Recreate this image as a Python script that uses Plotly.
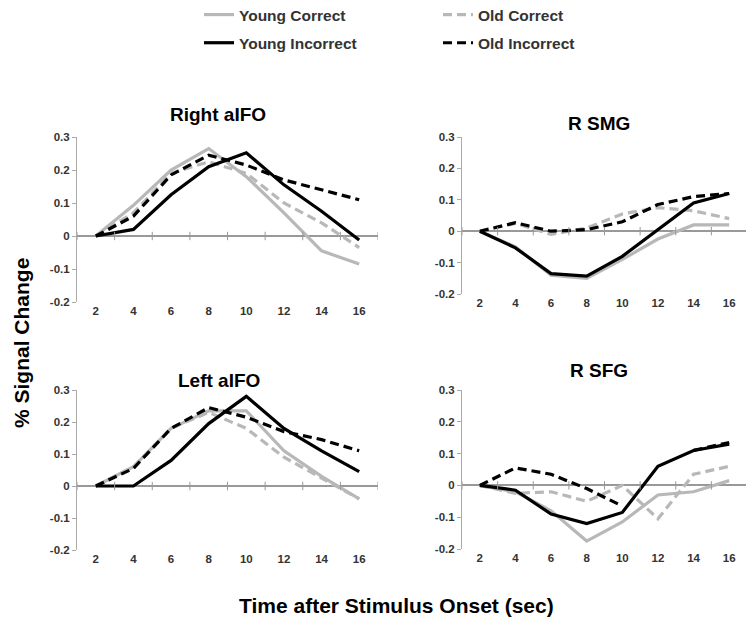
import plotly.graph_objects as go

# tempo (s) após o início do estímulo
tempo = [2, 4, 6, 8, 10, 12, 14, 16]

# Right aIFO
raifo_young_correct = [0, 0.093, 0.20, 0.265, 0.18, 0.07, -0.045, -0.085]
raifo_old_correct = [0, 0.07, 0.19, 0.225, 0.19, 0.10, 0.04, -0.035]
raifo_young_incorrect = [0, 0.02, 0.125, 0.21, 0.252, 0.155, 0.075, -0.012]
raifo_old_incorrect = [0, 0.06, 0.185, 0.245, 0.215, 0.17, 0.14, 0.11]

# R SMG
rsmg_young_correct = [0, -0.05, -0.14, -0.15, -0.09, -0.025, 0.02, 0.02]
rsmg_old_correct = [0, 0.025, -0.01, 0.01, 0.055, 0.075, 0.065, 0.04]
rsmg_young_incorrect = [0, -0.053, -0.135, -0.143, -0.08, 0.005, 0.09, 0.12]
rsmg_old_incorrect = [0, 0.027, 0.0, 0.005, 0.03, 0.085, 0.11, 0.12]

# Left aIFO
laifo_young_correct = [0, 0.06, 0.18, 0.235, 0.235, 0.11, 0.03, -0.04]
laifo_old_correct = [0, 0.06, 0.18, 0.23, 0.18, 0.09, 0.025, -0.04]
laifo_young_incorrect = [0, 0, 0.08, 0.195, 0.28, 0.18, 0.11, 0.045]
laifo_old_incorrect = [0, 0.055, 0.18, 0.245, 0.215, 0.17, 0.145, 0.11]

# R SFG
rsfg_young_correct = [0, -0.02, -0.08, -0.175, -0.115, -0.03, -0.02, 0.015]
rsfg_old_correct = [0, -0.025, -0.02, -0.05, 0.0, -0.105, 0.035, 0.06]
rsfg_young_incorrect = [0, -0.015, -0.09, -0.12, -0.085, 0.06, 0.11, 0.13]
rsfg_old_incorrect = [0, 0.055, 0.035, -0.01, -0.065, None, 0.11, 0.135]

paineis = [
    ("Right aIFO", raifo_young_correct, raifo_old_correct, raifo_young_incorrect, raifo_old_incorrect),
    ("R SMG", rsmg_young_correct, rsmg_old_correct, rsmg_young_incorrect, rsmg_old_incorrect),
    ("Left aIFO", laifo_young_correct, laifo_old_correct, laifo_young_incorrect, laifo_old_incorrect),
    ("R SFG", rsfg_young_correct, rsfg_old_correct, rsfg_young_incorrect, rsfg_old_incorrect),
]

# a página tem margem de 8px no body, então a figura é um pouco menor
OFF = 8
W, H = 754 - OFF, 625 - OFF
FONTE = "Arial, Liberation Sans, sans-serif"
CINZA = "#b8b8b8"


def fx(p):
    return (p - OFF) / W


def fy(p):
    return 1 - (p - OFF) / H


# posições dos painéis em pixels da tela: (x0, x1, y_top, y_bottom)
caixas = [(77, 378, 137, 302), (462, 747, 137, 294),
          (77, 378, 390, 550), (462, 747, 390, 549)]
# posição dos títulos (x, y)
titulos_pos = [(218, 115), (599, 123), (219, 380), (599, 370)]

estilos = [
    ("Young Correct", CINZA, "solid", "legend"),
    ("Old Correct", CINZA, "9px,5px", "legend2"),
    ("Young Incorrect", "black", "solid", "legend"),
    ("Old Incorrect", "black", "9px,5px", "legend2"),
]

fig = go.Figure()
layout = {}
anotacoes = []

for i, (titulo, *series) in enumerate(paineis):
    n = "" if i == 0 else str(i + 1)
    x0, x1, yt, yb = caixas[i]
    for (nome, cor, dash, leg), vals in zip(estilos, series):
        fig.add_trace(go.Scatter(
            x=tempo, y=vals, mode="lines", name=nome,
            line=dict(color=cor, width=3.2, dash=dash),
            xaxis="x" + n, yaxis="y" + n,
            showlegend=(i == 0), legend=leg, legendgroup=nome,
        ))
    # marcas de escala sobre a linha do zero
    fig.add_trace(go.Scatter(
        x=[1, 3, 5, 7, 9, 11, 13, 15, 17], y=[0] * 9, mode="markers",
        marker=dict(symbol="line-ns", size=6, line=dict(width=1, color="#999")),
        xaxis="x" + n, yaxis="y" + n, showlegend=False, hoverinfo="skip",
    ))
    layout["xaxis" + n] = dict(
        domain=[fx(x0), fx(x1)], range=[1, 17], anchor="y" + n,
        tickvals=tempo, showline=False, showgrid=False, zeroline=False,
        tickfont=dict(size=11.5, color="#333", family=FONTE, weight="bold"),
    )
    layout["yaxis" + n] = dict(
        domain=[fy(yb), fy(yt)], range=[-0.2, 0.3], anchor="x" + n,
        tickvals=[-0.2, -0.1, 0, 0.1, 0.2, 0.3],
        ticktext=["-0.2", "-0.1", "0", "0.1", "0.2", "0.3"],
        showline=True, linecolor="#aaa", linewidth=1,
        ticks="outside", ticklen=4, tickcolor="#aaa",
        showgrid=False, zeroline=True, zerolinecolor="#999", zerolinewidth=1.5,
        tickfont=dict(size=11.5, color="#333", family=FONTE, weight="bold"),
    )
    tx, ty = titulos_pos[i]
    anotacoes.append(dict(
        text="<b>%s</b>" % titulo, x=fx(tx), y=fy(ty), xref="paper", yref="paper",
        xanchor="center", yanchor="middle", showarrow=False,
        font=dict(size=19, color="black", family=FONTE),
    ))

anotacoes.append(dict(
    text="<b>% Signal Change</b>", x=fx(21), y=fy(343), xref="paper", yref="paper",
    xanchor="center", yanchor="middle", showarrow=False, textangle=-90,
    font=dict(size=21, color="black", family=FONTE),
))
anotacoes.append(dict(
    text="<b>Time after Stimulus Onset (sec)</b>", x=fx(396), y=fy(605),
    xref="paper", yref="paper", xanchor="center", yanchor="middle", showarrow=False,
    font=dict(size=21, color="black", family=FONTE),
))

fonte_leg = dict(size=15.5, color="#333", family=FONTE, weight="bold")
fig.update_layout(
    width=W, height=H,
    margin=dict(l=0, r=0, t=0, b=0, autoexpand=False),
    plot_bgcolor="white", paper_bgcolor="white",
    annotations=anotacoes,
    legend=dict(x=fx(199), y=fy(-2), xanchor="left", yanchor="top",
                font=fonte_leg, tracegroupgap=5, bgcolor="rgba(0,0,0,0)"),
    legend2=dict(x=fx(438), y=fy(-2), xanchor="left", yanchor="top",
                 font=fonte_leg, tracegroupgap=5, bgcolor="rgba(0,0,0,0)"),
    **layout,
)

fig.write_html("out.html")
